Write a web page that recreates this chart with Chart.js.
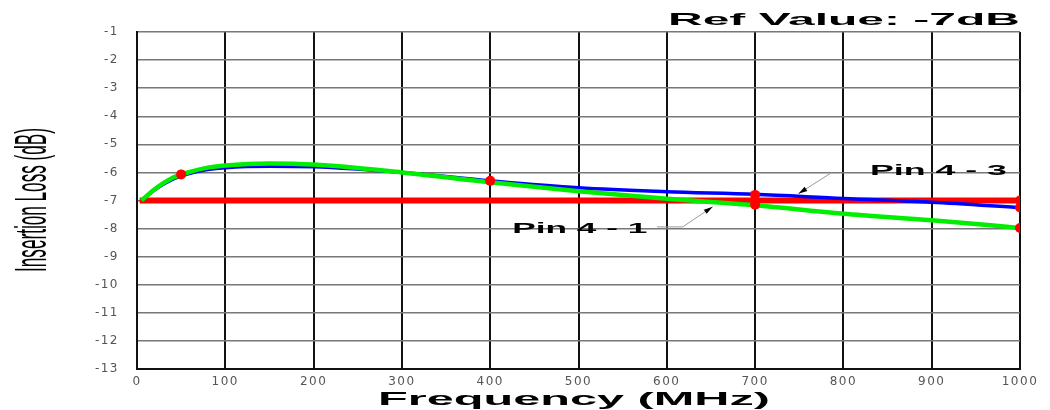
<!DOCTYPE html>
<html>
<head>
<meta charset="utf-8">
<script src="https://cdn.jsdelivr.net/npm/chart.js@4.4.1/dist/chart.umd.min.js"></script>
<style>
html, body { margin: 0; padding: 0; background: #fff; }
#wrap { width: 1050px; height: 410px; position: relative; }
</style>
</head>
<body>
<div id="wrap"><canvas id="graph"></canvas></div>
<script>
// frequencies (MHz) and insertion loss (dB)
const freqs = [5, 20, 40, 60, 80, 100, 150, 200, 300, 400, 500, 600, 700, 800, 900, 1000];
const pin43 = [-7.0, -6.62, -6.25, -6.03, -5.9, -5.83, -5.78, -5.8, -6.0, -6.3, -6.55, -6.69, -6.78, -6.93, -7.06, -7.25];
const pin41 = [-7.0, -6.6, -6.2, -5.98, -5.83, -5.75, -5.68, -5.72, -6.0, -6.35, -6.67, -6.94, -7.17, -7.47, -7.7, -7.98];
const refFreqs = [3, 1000];
const refValues = [-7, -7];
const markFreqs = [50, 400, 700, 700, 1000, 1000, 1000];
const markValues = [-6.07, -6.3, -6.8, -7.15, -7.0, -7.25, -7.98];
const xTicks = [0, 100, 200, 300, 400, 500, 600, 700, 800, 900, 1000];
const yTicks = [-1, -2, -3, -4, -5, -6, -7, -8, -9, -10, -11, -12, -13];

const titleText = 'Ref Value: -7dB';
const xTitle = 'Frequency (MHz)';
const yTitle = 'Insertion Loss (dB)';

// callouts: text anchor + leader path in data units
const notes = [
    { text: 'Pin 4 - 3', at: [830, -6.09], width: 137, path: [[787, -6.0], [749, -6.76]] },
    { text: 'Pin 4 - 1', at: [425, -8.16], width: 135, path: [[589, -7.94], [618, -7.94], [652, -7.22]] }
];

const pts = (xs, ys) => xs.map((v, i) => ({ x: v, y: ys[i] }));

// draw text squeezed/stretched to a given width
function fitText(ctx, text, x, y, width, font, rot) {
    ctx.save();
    ctx.letterSpacing = '0px';
    ctx.font = font;
    ctx.fillStyle = '#000';
    ctx.textAlign = 'left';
    ctx.textBaseline = 'alphabetic';
    const w = ctx.measureText(text).width;
    ctx.translate(x, y);
    if (rot) ctx.rotate(rot);
    ctx.scale(width / w, 1);
    ctx.fillText(text, 0, 0);
    ctx.restore();
}

const overlay = {
    id: 'overlay',
    beforeDraw(chart) {
        chart.ctx.letterSpacing = '1.5px'; // wide tick lettering
    },
    afterDatasetsDraw(chart) {
        const { ctx, scales: { x, y } } = chart;
        notes.forEach(n => {
            const p = n.path.map(q => [x.getPixelForValue(q[0]), y.getPixelForValue(q[1])]);
            ctx.save();
            ctx.strokeStyle = '#999';
            ctx.lineWidth = 1;
            ctx.beginPath();
            p.forEach((q, i) => i ? ctx.lineTo(q[0], q[1]) : ctx.moveTo(q[0], q[1]));
            ctx.stroke();
            // arrow head
            const a = p[p.length - 2], b = p[p.length - 1];
            const ang = Math.atan2(b[1] - a[1], b[0] - a[0]);
            ctx.translate(b[0], b[1]);
            ctx.rotate(ang);
            ctx.fillStyle = '#000';
            ctx.beginPath();
            ctx.moveTo(0, 0);
            ctx.lineTo(-9, -2.5);
            ctx.lineTo(-9, 2.5);
            ctx.closePath();
            ctx.fill();
            ctx.restore();
            fitText(ctx, n.text, x.getPixelForValue(n.at[0]), y.getPixelForValue(n.at[1]), n.width, 'bold 15px "Liberation Sans"');
        });
    },
    afterDraw(chart) {
        const ctx = chart.ctx;
        fitText(ctx, titleText, 668, 25, 352, 'bold 17px "Liberation Sans"');
        fitText(ctx, xTitle, 378, 405, 392, 'bold 18px "Liberation Sans"');
        fitText(ctx, yTitle, 46, 272, 144, '44px "Liberation Sans"', -Math.PI / 2);
    }
};

new Chart(document.getElementById('graph'), {
    type: 'line',
    data: {
        datasets: [
            { label: 'marks', data: pts(markFreqs, markValues), showLine: false, pointRadius: 5, pointBackgroundColor: '#ff0000', pointBorderWidth: 0, order: 0 },
            { label: 'Pin 4 - 1', data: pts(freqs, pin41), borderColor: '#00ee00', borderWidth: 4.5, pointRadius: 0, cubicInterpolationMode: 'monotone', order: 1 },
            { label: 'Pin 4 - 3', data: pts(freqs, pin43), borderColor: '#0000ff', borderWidth: 3.5, pointRadius: 0, cubicInterpolationMode: 'monotone', order: 2 },
            { label: 'Ref', data: pts(refFreqs, refValues), borderColor: '#ff0000', borderWidth: 6, pointRadius: 0, order: 3 }
        ]
    },
    options: {
        responsive: true,
        maintainAspectRatio: false,
        animation: false,
        layout: { padding: { left: 0, right: 30, top: 32, bottom: 0 } },
        plugins: { legend: { display: false }, tooltip: { enabled: false } },
        scales: {
            x: {
                type: 'linear', min: 0, max: 1000,
                afterFit: s => { s.height = 41; },
                afterBuildTicks: s => { s.ticks = xTicks.map(v => ({ value: v })); },
                grid: { color: '#111', lineWidth: 2, drawTicks: false },
                border: { color: '#111', width: 2 },
                ticks: { color: '#555', padding: 6, maxRotation: 0, callback: v => String(v), font: { family: 'DejaVu Sans', size: 12 } }
            },
            y: {
                min: -13, max: -1,
                afterFit: s => { s.width = 137; },
                afterBuildTicks: s => { s.ticks = yTicks.map(v => ({ value: v })); },
                grid: { color: '#777', lineWidth: 1.5, drawTicks: false },
                border: { color: '#111', width: 2 },
                ticks: { color: '#555', padding: 18, callback: v => String(v), font: { family: 'DejaVu Sans', size: 12 } }
            }
        }
    },
    plugins: [overlay]
});
</script>
</body>
</html>
